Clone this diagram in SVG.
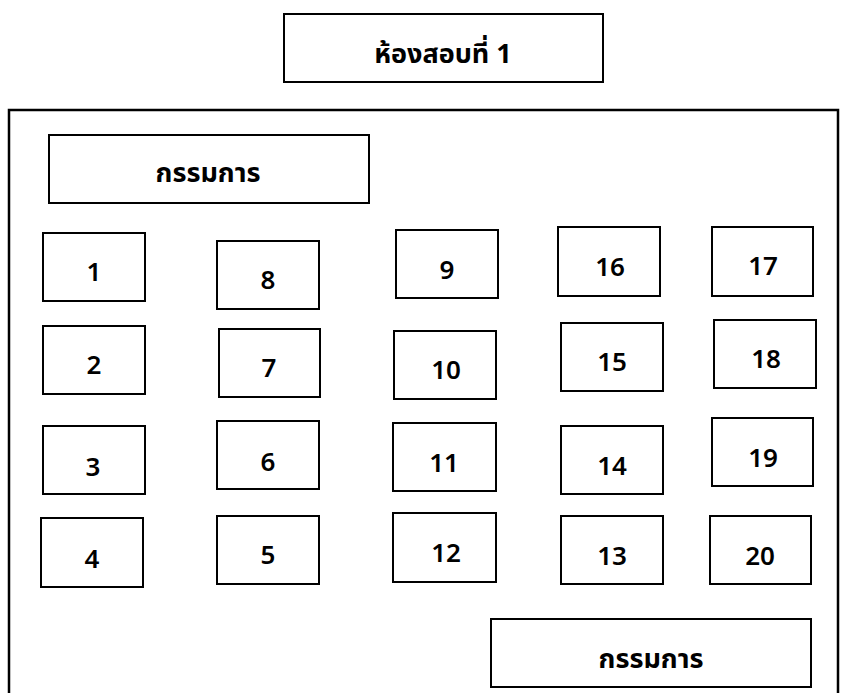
<svg xmlns="http://www.w3.org/2000/svg" width="847" height="693" viewBox="0 0 847 693">
<style>
.b{fill:#fff;stroke:#000;stroke-width:2}
.n{font-family:"Noto Sans","Open Sans",sans-serif;font-size:26px;font-weight:600;fill:#000;text-anchor:middle}
.t{font-family:"Noto Sans","Noto Sans Thai","Noto Sans CJK SC",sans-serif;font-size:27px;font-weight:bold;fill:#000;text-anchor:middle}
</style>
<rect width="847" height="693" fill="#fff"/>
<g id="frame"><path d="M9,700 V110 H838 V700" fill="none" stroke="#000" stroke-width="2.5"/></g>
<g id="title"><rect class="b" x="284" y="14" width="319" height="68"/><text class="t" x="443" y="63">ห้องสอบที่ 1</text></g>
<g id="committee1"><rect class="b" x="49" y="135" width="320" height="68"/><text class="t" x="208" y="182">กรรมการ</text></g>
<g id="committee2"><rect class="b" x="491" y="619" width="320" height="68"/><text class="t" x="651" y="668">กรรมการ</text></g>
<g id="s1"><rect class="b" x="43" y="233" width="102" height="68"/><text class="n" x="94" y="281">1</text></g>
<g id="s2"><rect class="b" x="43" y="326" width="102" height="68"/><text class="n" x="94" y="374">2</text></g>
<g id="s3"><rect class="b" x="43" y="426" width="102" height="68"/><text class="n" x="93" y="476">3</text></g>
<g id="s4"><rect class="b" x="41" y="518" width="102" height="69"/><text class="n" x="92" y="568">4</text></g>
<g id="s5"><rect class="b" x="217" y="516" width="102" height="68"/><text class="n" x="268" y="564">5</text></g>
<g id="s6"><rect class="b" x="217" y="421" width="102" height="68"/><text class="n" x="268" y="471">6</text></g>
<g id="s7"><rect class="b" x="219" y="329" width="101" height="68"/><text class="n" x="269" y="377">7</text></g>
<g id="s8"><rect class="b" x="217" y="241" width="102" height="68"/><text class="n" x="268" y="289">8</text></g>
<g id="s9"><rect class="b" x="396" y="230" width="102" height="68"/><text class="n" x="447" y="279">9</text></g>
<g id="s10"><rect class="b" x="394" y="331" width="102" height="68"/><text class="n" x="446" y="379">10</text></g>
<g id="s11"><rect class="b" x="393" y="423" width="103" height="68"/><text class="n" x="444" y="472">11</text></g>
<g id="s12"><rect class="b" x="393" y="513" width="103" height="69"/><text class="n" x="446" y="562">12</text></g>
<g id="s13"><rect class="b" x="561" y="516" width="102" height="68"/><text class="n" x="612" y="565">13</text></g>
<g id="s14"><rect class="b" x="561" y="426" width="102" height="68"/><text class="n" x="612" y="475">14</text></g>
<g id="s15"><rect class="b" x="561" y="323" width="102" height="68"/><text class="n" x="612" y="371">15</text></g>
<g id="s16"><rect class="b" x="558" y="227" width="102" height="69"/><text class="n" x="610" y="276">16</text></g>
<g id="s17"><rect class="b" x="712" y="227" width="101" height="69"/><text class="n" x="763" y="275">17</text></g>
<g id="s18"><rect class="b" x="714" y="320" width="102" height="68"/><text class="n" x="766" y="368">18</text></g>
<g id="s19"><rect class="b" x="712" y="418" width="101" height="68"/><text class="n" x="763" y="467">19</text></g>
<g id="s20"><rect class="b" x="710" y="516" width="101" height="68"/><text class="n" x="760" y="565">20</text></g>
</svg>
